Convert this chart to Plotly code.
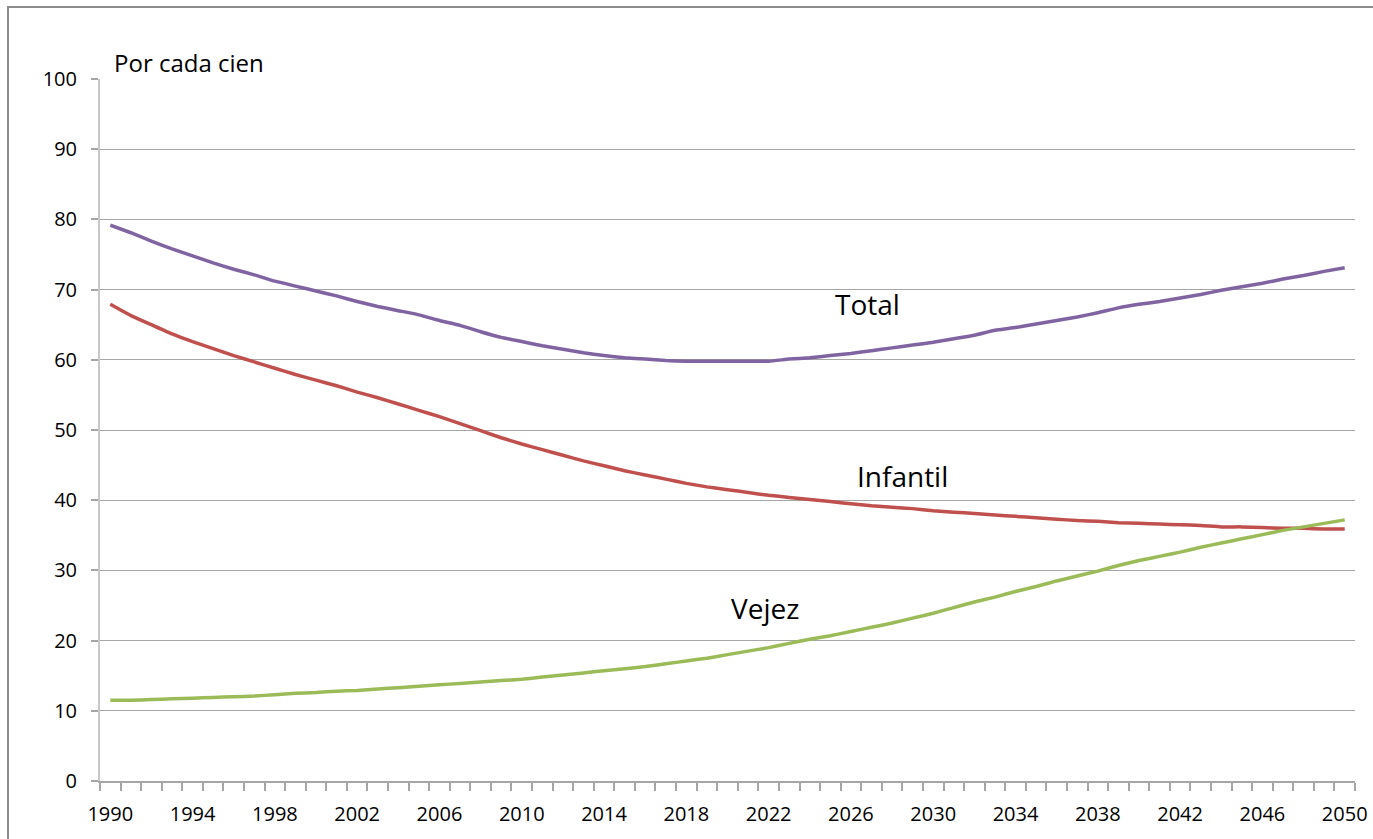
import plotly.graph_objects as go

years = list(range(1990, 2051))

total = [79.2, 78.1, 76.9, 75.8, 74.8, 73.8, 72.9, 72.1, 71.2, 70.5,
         69.8, 69.1, 68.3, 67.6, 67.0, 66.4, 65.6, 64.9, 64.0, 63.2,
         62.6, 62.0, 61.5, 61.0, 60.6, 60.3, 60.1, 59.9, 59.8, 59.8,
         59.8, 59.8, 59.8, 60.1, 60.3, 60.6, 60.9, 61.3, 61.7, 62.1,
         62.5, 63.0, 63.5, 64.2, 64.6, 65.1, 65.6, 66.1, 66.7, 67.4,
         67.9, 68.3, 68.8, 69.3, 69.9, 70.4, 70.9, 71.5, 72.0, 72.6,
         73.1]

infantil = [67.9, 66.3, 65.0, 63.7, 62.6, 61.6, 60.6, 59.7, 58.8, 57.9,
            57.1, 56.3, 55.4, 54.6, 53.7, 52.8, 51.9, 50.9, 49.9, 48.9,
            48.0, 47.2, 46.4, 45.6, 44.9, 44.2, 43.6, 43.0, 42.4, 41.9,
            41.5, 41.1, 40.7, 40.4, 40.1, 39.8, 39.5, 39.2, 39.0, 38.8,
            38.5, 38.3, 38.1, 37.9, 37.7, 37.5, 37.3, 37.1, 37.0, 36.8,
            36.7, 36.6, 36.5, 36.4, 36.2, 36.2, 36.1, 36.0, 36.0, 35.9,
            35.9]

vejez = [11.5, 11.5, 11.6, 11.7, 11.8, 11.9, 12.0, 12.1, 12.3, 12.5,
         12.6, 12.8, 12.9, 13.1, 13.3, 13.5, 13.7, 13.9, 14.1, 14.3,
         14.5, 14.8, 15.1, 15.4, 15.7, 16.0, 16.3, 16.7, 17.1, 17.5,
         18.0, 18.5, 19.0, 19.6, 20.2, 20.7, 21.3, 21.9, 22.5, 23.2,
         23.9, 24.7, 25.5, 26.2, 27.0, 27.7, 28.5, 29.2, 29.9, 30.7,
         31.4, 32.0, 32.6, 33.3, 33.9, 34.5, 35.1, 35.7, 36.2, 36.7,
         37.2]

series_names = ["Total", "Infantil", "Vejez"]
series_values = [total, infantil, vejez]
series_colors = ["#8064A2", "#C0504D", "#9BBB59"]
label_pos = [(2026.8, 67.9), (2028.5, 43.4), (2021.8, 24.6)]

x_tick_vals = list(range(1990, 2051, 4))
y_tick_vals = list(range(0, 101, 10))

FONT = "Open Sans"

fig = go.Figure()
for name, vals, col in zip(series_names, series_values, series_colors):
    fig.add_trace(go.Scatter(x=years, y=vals, mode="lines", name=name,
                             line=dict(color=col, width=3.5, shape="spline", smoothing=0.4)))

for name, (lx, ly) in zip(series_names, label_pos):
    fig.add_annotation(x=lx, y=ly, text=name, showarrow=False,
                       font=dict(family=FONT, size=28, color="#000000"))

fig.add_annotation(xref="paper", yref="paper", x=0.0096, y=1.0242, text="Por cada cien",
                   showarrow=False, xanchor="left", yanchor="middle",
                   font=dict(family=FONT, size=24, color="#000000"))

fig.update_layout(
    width=1373, height=839,
    margin=dict(l=100, r=18, t=79, b=58, autoexpand=False),
    paper_bgcolor="white", plot_bgcolor="white",
    showlegend=False,
    font=dict(family=FONT, size=20, color="#000000"),
    xaxis=dict(range=[1989.5, 2050.5], tickmode="array", tickvals=x_tick_vals,
               ticktext=[str(v) for v in x_tick_vals], ticks="", automargin=False,
               showgrid=False, zeroline=False, showline=True, linecolor="#a6a6a6",
               linewidth=1.5, ticklabelstandoff=14, ticklabeloverflow="allow",
               minor=dict(tickmode="linear", tick0=1989.5, dtick=1, ticks="outside",
                          ticklen=8, tickcolor="#a6a6a6", tickwidth=1.5, showgrid=False),
               tickfont=dict(family=FONT, size=20)),
    yaxis=dict(range=[0, 100], tickmode="array", tickvals=y_tick_vals, automargin=False,
               ticks="outside", ticklen=7, tickcolor="#a6a6a6", tickwidth=1.5,
               showgrid=True, gridcolor="#a6a6a6", gridwidth=1.2,
               zeroline=False, showline=True, linecolor="#c8c8c8", linewidth=2,
               ticklabelstandoff=10, tickfont=dict(family=FONT, size=20)),
)

fig.add_shape(type="rect", xref="paper", yref="paper",
              x0=-0.0733, x1=1.03, y0=-0.12, y1=1.1026,
              line=dict(color="#8c8c8c", width=2), fillcolor="rgba(0,0,0,0)", layer="below")

fig.write_html("out.html", config={"displayModeBar": False},
               post_script="document.body.style.margin='0';document.body.style.overflow='hidden';")
